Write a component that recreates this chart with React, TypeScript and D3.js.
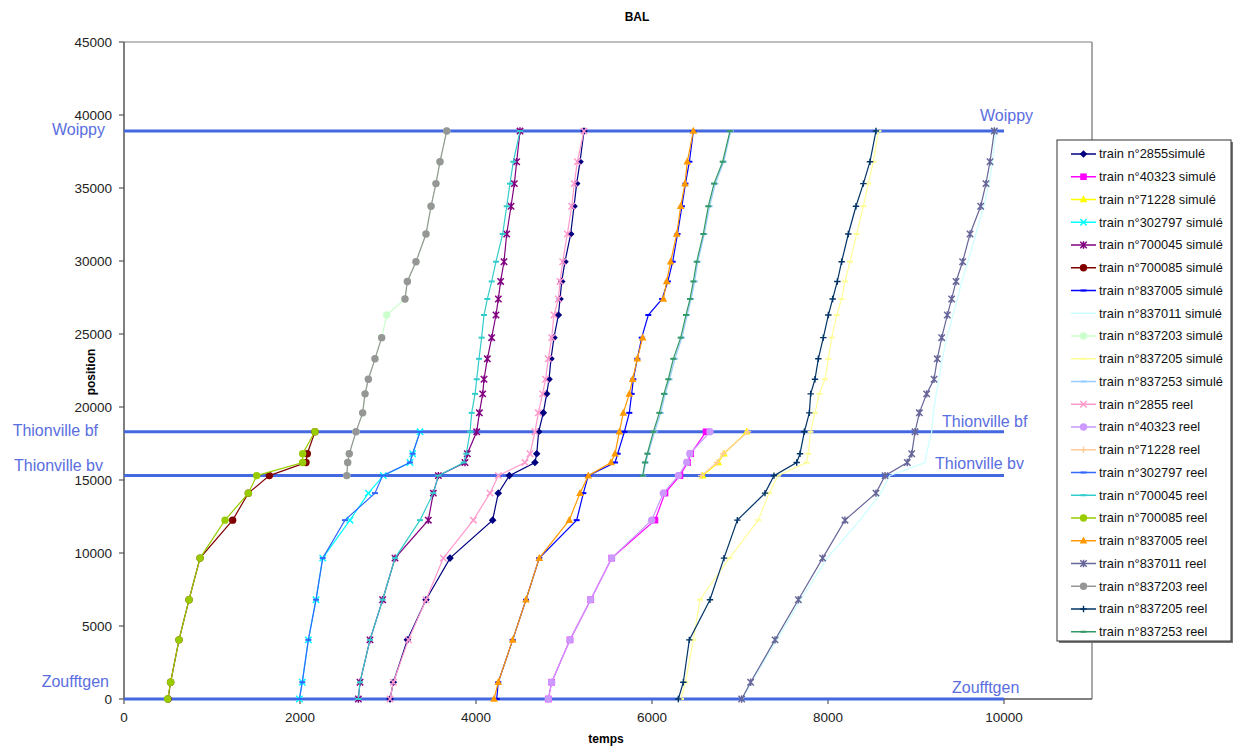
import React from "react";
import * as d3 from "d3";

// ---------- data ----------
const POSITIONS = [0, 1150, 4050, 6800, 9650, 12250, 14100, 15300, 16200, 16800, 18300, 19600, 20900, 21900, 23300, 24750, 26300, 27400, 28600, 29950, 31850, 33750, 35300, 36800, 38900];

const _ = null;
const t2855sim = [3023, 3061, 3220, 3432, 3705, 4189, 4253, 4379, 4670, 4690, 4712, 4765, 4803, 4830, 4852, 4886, 4936, 4955, 4974, 5011, 5076, 5114, 5144, 5182, 5227];
const t40323sim = [4822, 4860, 5068, 5303, 5542, 6034, 6148, 6318, 6405, 6440, 6614];
const t71228sim = [_, _, _, _, _, _, _, 6576, 6754, 6818, 7076];
const t302797sim = [1993, 2026, 2095, 2182, 2258, 2568, 2777, 2947, 3250, 3280, 3364];
const t700045sim = [2663, 2682, 2795, 2939, 3080, 3458, 3515, 3572, 3875, 3901, 4008, 4038, 4076, 4091, 4129, 4178, 4227, 4254, 4280, 4318, 4349, 4398, 4436, 4462, 4500];
const t700085sim = [500, 530, 625, 739, 864, 1235, 1413, 1652, 2068, 2083, 2170];
const t837005sim = [4235, 4253, 4417, 4568, 4719, 5144, 5220, 5276, 5580, 5610, 5686, 5742, 5769, 5788, 5833, 5883, 5958, 6115, 6180, 6235, 6290, 6340, 6380, 6425, 6470];
const t837011sim = [7030, 7130, 7420, 7690, 7990, 8364, 8600, 8700, 9102, 9120, 9178, 9197, 9230, 9260, 9300, 9350, 9420, 9470, 9520, 9590, 9680, 9770, 9830, 9870, 9910];
const t837203sim = [_, _, _, _, _, _, _, 2531, 2542, 2560, 2636, 2712, 2739, 2777, 2852, 2928, 2985, 3193, 3220, 3318, 3432, 3489, 3545, 3591, 3667];
const t837205sim = [6330, 6380, 6470, 6545, 6880, 7208, 7330, 7430, 7758, 7776, 7800, 7852, 7901, 7966, 8004, 8042, 8099, 8155, 8193, 8250, 8326, 8402, 8458, 8515, 8572];
const t837253sim = [_, _, _, _, _, _, _, 5900, 5930, 5955, 6030, 6100, 6150, 6200, 6260, 6340, 6400, 6445, 6485, 6520, 6595, 6655, 6720, 6815, 6895];
const t2855reel = [3023, 3061, 3232, 3432, 3629, 3970, 4159, 4254, 4557, 4614, 4670, 4708, 4757, 4790, 4822, 4860, 4886, 4936, 4955, 4985, 5038, 5087, 5117, 5152, 5227];
const t40323reel = [4822, 4860, 5068, 5303, 5542, 5996, 6129, 6300, 6395, 6430, 6659];
const t71228reel = [_, _, _, _, _, _, _, 6560, 6740, 6810, 7090];
const t302797reel = [1993, 2026, 2095, 2182, 2258, 2511, 2852, 2939, 3250, 3280, 3364];
const t700045reel = [2663, 2682, 2795, 2939, 3080, 3364, 3515, 3572, 3860, 3890, 3932, 3951, 3989, 4008, 4034, 4064, 4091, 4129, 4178, 4227, 4303, 4349, 4386, 4424, 4500];
const t700085reel = [496, 530, 625, 739, 864, 1148, 1413, 1508, 2030, 2030, 2170];
const t837005reel = [4205, 4253, 4417, 4568, 4719, 5060, 5182, 5276, 5534, 5580, 5629, 5674, 5742, 5780, 5833, 5894, _, 6129, 6167, 6212, 6281, 6326, 6375, 6401, 6470];
const t837011reel = [7019, 7121, 7398, 7663, 7939, 8193, 8545, 8648, 8901, 8951, 8989, 9038, 9121, 9205, 9242, 9292, 9356, 9405, 9455, 9530, 9614, 9735, 9795, 9841, 9890];
const t837203reel = [_, _, _, _, _, _, _, 2531, 2542, 2560, 2636, 2712, 2739, 2777, 2852, 2928, _, 3193, 3220, 3318, 3432, 3489, 3545, 3591, 3667];
const t837205reel = [6299, 6356, 6424, 6659, 6818, 6970, 7284, 7386, 7644, 7682, 7731, 7788, 7803, 7852, 7890, 7947, 8004, 8053, 8106, 8155, 8231, 8318, 8402, 8477, 8545];
const t837253reel = [_, _, _, _, _, _, _, 5894, 5920, 5947, 6015, 6083, 6136, 6185, 6242, 6326, 6386, 6432, 6470, 6508, 6583, 6640, 6705, 6803, 6886];

const SERIES_NAMES = [
  "train n°2855simulé", "train n°40323 simulé", "train n°71228 simulé", "train n°302797 simulé",
  "train n°700045 simulé", "train n°700085 simulé", "train n°837005 simulé", "train n°837011 simulé",
  "train n°837203 simulé", "train n°837205 simulé", "train n°837253 simulé",
  "train n°2855 reel", "train n°40323 reel", "train n°71228 reel", "train n°302797 reel",
  "train n°700045 reel", "train n°700085 reel", "train n°837005 reel", "train n°837011 reel",
  "train n°837203 reel", "train n°837205 reel", "train n°837253 reel",
];
const SERIES_TIMES = [
  t2855sim, t40323sim, t71228sim, t302797sim, t700045sim, t700085sim, t837005sim, t837011sim, t837203sim, t837205sim, t837253sim,
  t2855reel, t40323reel, t71228reel, t302797reel, t700045reel, t700085reel, t837005reel, t837011reel, t837203reel, t837205reel, t837253reel,
];

const STATION_NAMES = ["Zoufftgen", "Thionville bv", "Thionville bf", "Woippy"];
const STATION_POS = [0, 15300, 18300, 38900];
const STATION_SPAN = [0, 10000];

const X_TICKS = [0, 2000, 4000, 6000, 8000, 10000];
const Y_TICKS = [0, 5000, 10000, 15000, 20000, 25000, 30000, 35000, 40000, 45000];

// ---------- styles ----------
const COLORS = [
  "#000080", "#ff00ff", "#ffff00", "#00ffff", "#800080", "#800000", "#0000ff", "#ccffff", "#ccffcc", "#ffff99", "#99ccff",
  "#ff99cc", "#cc99ff", "#ffcc99", "#3366ff", "#33cccc", "#99cc00", "#ff9900", "#666699", "#969696", "#003366", "#339966",
];
const MARKERS = [
  "diamond", "square", "triangle", "x", "star", "circle", "dash", "none", "circle", "dash", "dash",
  "x", "circle", "plus", "dash", "dash", "circle", "triangle", "star", "circle", "plus", "dash",
];

const W = 1233, H = 746;
const FONT = "'Liberation Sans', Arial, Helvetica, sans-serif";
const STATION_COLOR = "#4468e0";
const LABEL_COLOR = "#5a6ee0";

function Marker({ type, cx, cy, color }: { type: string; cx: number; cy: number; color: string }) {
  const s = 3.2;
  switch (type) {
    case "diamond":
      return <path d={`M${cx},${cy - 3.8}L${cx + 3.8},${cy}L${cx},${cy + 3.8}L${cx - 3.8},${cy}Z`} fill={color} />;
    case "square":
      return <rect x={cx - 3.3} y={cy - 3.3} width={6.6} height={6.6} fill={color} />;
    case "triangle":
      return <path d={`M${cx},${cy - 4.2}L${cx + 3.8},${cy + 2.8}L${cx - 3.8},${cy + 2.8}Z`} fill={color} />;
    case "circle":
      return <circle cx={cx} cy={cy} r={3.7} fill={color} />;
    case "x":
      return (
        <path d={`M${cx - s},${cy - s}L${cx + s},${cy + s}M${cx - s},${cy + s}L${cx + s},${cy - s}`} stroke={color} strokeWidth={1.5} fill="none" />
      );
    case "star":
      return (
        <path d={`M${cx - s},${cy - s}L${cx + s},${cy + s}M${cx - s},${cy + s}L${cx + s},${cy - s}M${cx},${cy - s - 0.5}L${cx},${cy + s + 0.5}`} stroke={color} strokeWidth={1.5} fill="none" />
      );
    case "plus":
      return <path d={`M${cx - s},${cy}L${cx + s},${cy}M${cx},${cy - s}L${cx},${cy + s}`} stroke={color} strokeWidth={1.4} fill="none" />;
    case "dash":
      return <path d={`M${cx - 3},${cy}L${cx + 3},${cy}`} stroke={color} strokeWidth={2} fill="none" />;
    default:
      return null;
  }
}

export default function App() {
  const x = d3.scaleLinear().domain([0, 11000]).range([124, 1092]);
  const y = d3.scaleLinear().domain([0, 45000]).range([699, 42]);

  const line = d3
    .line<[number, number | null]>()
    .defined((d) => d[1] != null)
    .x((d) => x(d[1] as number))
    .y((d) => y(d[0]));

  const seriesPts = SERIES_TIMES.map((times) => POSITIONS.slice(0, times.length).map((p, i) => [p, times[i]] as [number, number | null]));

  const leftLabel = [
    { xe: 109, dy: -18 },
    { xe: 103, dy: -10 },
    { xe: 98, dy: -1 },
    { xe: 105, dy: -2 },
  ];
  const rightLabel = [
    { xs: 952, dy: -12 },
    { xs: 935, dy: -12 },
    { xs: 942, dy: -10 },
    { xs: 980, dy: -16 },
  ];

  const legendX = 1057, legendY = 140, legendW = 174, legendH = 501;
  const itemH = 22.75;

  return (
    <svg width={W} height={H} style={{ position: "absolute", left: 0, top: 0, display: "block", background: "#fff" }} fontFamily={FONT}>
      <rect x={0} y={0} width={W} height={H} fill="#fff" />
      {/* title */}
      <text x={637} y={21} textAnchor="middle" fontSize={12} fontWeight="bold" fill="#000">BAL</text>

      {/* plot frame */}
      <line x1={124} y1={42} x2={1092} y2={42} stroke="#a8a8a8" strokeWidth={1.5} />
      <line x1={1092} y1={42} x2={1092} y2={699} stroke="#8c8c8c" strokeWidth={1.5} />

      {/* axes */}
      <line x1={124} y1={42} x2={124} y2={699} stroke="#555" strokeWidth={1.5} />
      <line x1={124} y1={699} x2={1092} y2={699} stroke="#555" strokeWidth={1.5} />
      {Y_TICKS.map((t) => (
        <g key={"y" + t}>
          <line x1={119} x2={124} y1={y(t)} y2={y(t)} stroke="#555" strokeWidth={1.2} />
          <text x={112} y={y(t)} dy="0.35em" textAnchor="end" fontSize={13.5} fill="#222">{t}</text>
        </g>
      ))}
      {X_TICKS.map((t) => (
        <g key={"x" + t}>
          <line x1={x(t)} x2={x(t)} y1={699} y2={704} stroke="#555" strokeWidth={1.2} />
          <text x={x(t)} y={722} textAnchor="middle" fontSize={13.5} fill="#222">{t}</text>
        </g>
      ))}
      <text x={606} y={743} textAnchor="middle" fontSize={12} fontWeight="bold" fill="#000">temps</text>
      <text transform={`translate(95,372) rotate(-90)`} textAnchor="middle" fontSize={12} fontWeight="bold" fill="#000">position</text>

      {/* station lines */}
      {STATION_POS.map((p, i) => (
        <line key={"st" + i} x1={x(STATION_SPAN[0])} x2={x(STATION_SPAN[1])} y1={y(p)} y2={y(p)} stroke={STATION_COLOR} strokeWidth={3} />
      ))}
      {STATION_POS.map((p, i) => (
        <g key={"stl" + i} fontSize={16} fill={LABEL_COLOR}>
          <text x={leftLabel[i].xe} y={y(p) + leftLabel[i].dy} dy="0.35em" textAnchor="end">{STATION_NAMES[i]}</text>
          <text x={rightLabel[i].xs} y={y(p) + rightLabel[i].dy} dy="0.35em" textAnchor="start">{STATION_NAMES[i]}</text>
        </g>
      ))}

      {/* series */}
      {seriesPts.map((pts, i) => (
        <g key={"s" + i}>
          <path d={line(pts) || ""} fill="none" stroke={COLORS[i]} strokeWidth={1.2} />
          {pts
            .filter((d) => d[1] != null)
            .map((d, j) => (
              <Marker key={j} type={MARKERS[i]} cx={x(d[1] as number)} cy={y(d[0])} color={COLORS[i]} />
            ))}
        </g>
      ))}

      {/* legend */}
      <rect x={legendX + 2} y={legendY + 2} width={legendW} height={legendH} fill="#777" />
      <rect x={legendX} y={legendY} width={legendW} height={legendH} fill="#fff" stroke="#333" strokeWidth={1} />
      {SERIES_NAMES.map((name, i) => {
        const cy = legendY + 14 + i * itemH;
        return (
          <g key={"lg" + i}>
            <line x1={1071} x2={1096} y1={cy} y2={cy} stroke={COLORS[i]} strokeWidth={1.5} />
            <Marker type={MARKERS[i]} cx={1083.5} cy={cy} color={COLORS[i]} />
            <text x={1099} y={cy} dy="0.35em" fontSize={12.8} fill="#111">{name}</text>
          </g>
        );
      })}
    </svg>
  );
}
